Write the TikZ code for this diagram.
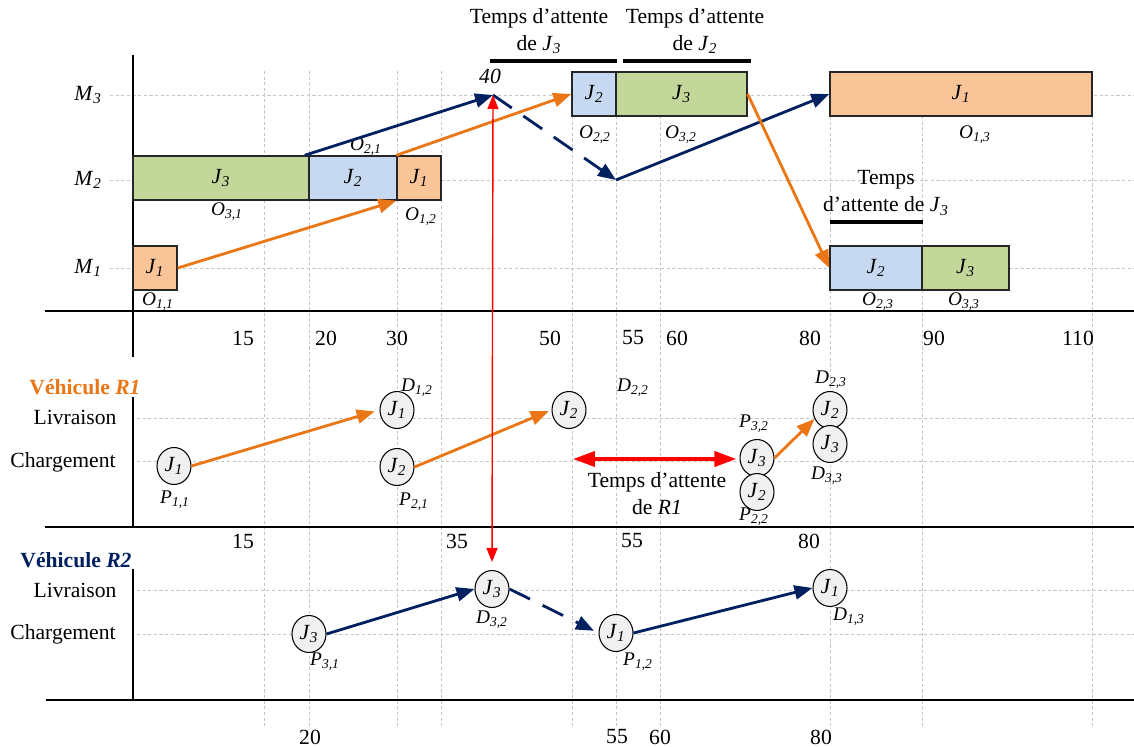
\documentclass[tikz,border=0pt]{standalone}
\usepackage{fontspec}
\setmainfont{Liberation Serif}
\usepackage{tikz}
\usetikzlibrary{arrows.meta,shapes.geometric}
\usepackage{xcolor}
\definecolor{jgreen}{RGB}{196,215,155}
\definecolor{jblue}{RGB}{198,217,240}
\definecolor{jorange}{RGB}{249,196,152}
\definecolor{rone}{RGB}{235,118,22}
\definecolor{rtwo}{RGB}{0,32,96}
\definecolor{pin}{RGB}{240,240,240}
\newcommand{\jsub}[2]{\textit{#1}\textsubscript{\textit{#2}}}

\begin{document}
\begin{tikzpicture}[x=0.02cm,y=-0.02cm,>={Triangle[length=3.6mm,width=2.8mm]},font=\fontsize{12.3}{15.3}\selectfont,
  grille/.style={gray!45,line width=0.4pt,dash pattern=on 1.8pt off 1.4pt},
  axe/.style={black,line width=0.8pt},
  op/.style={draw=black!85,line width=0.8pt,minimum height=0.88cm,inner sep=0pt},
  arret/.style={draw=black,fill=pin,ellipse,minimum width=0.68cm,minimum height=0.74cm,inner sep=0pt,line width=0.6pt},
  lab/.style={font=\fontsize{11}{13}\selectfont},
  flux1/.style={->,rone,line width=1.6pt},
  flux2/.style={->,rtwo,line width=1.6pt},
  attente/.style={line width=1.8pt}]
\useasboundingbox (0,0) rectangle (1134,747);
\draw[grille] (264,71) -- (264,726) (309,71) -- (309,726) (397,71) -- (397,726) (441,71) -- (441,726)
  (572,71) -- (572,726) (616,71) -- (616,726) (660,71) -- (660,726) (830,71) -- (830,726)
  (922,71) -- (922,726) (1092,71) -- (1092,726);
\draw[grille] (110,95) -- (1134,95) (110,180) -- (1134,180) (110,268) -- (1134,268);
\draw[grille] (137,418) -- (1134,418) (137,461) -- (1134,461) (137,590) -- (1134,590) (137,634) -- (1134,634);
\draw[axe] (133,55) -- (133,357);
\draw[axe] (45,311) -- (1134,311);
\draw[axe] (133,397) -- (133,527);
\draw[axe] (45,527) -- (1134,527);
\draw[axe] (133,569) -- (133,700);
\draw[axe] (46,700) -- (1134,700);
\node (m3) at (88,95) {\jsub{M}{3}};
\node (m2) at (88,180) {\jsub{M}{2}};
\node (m1) at (88,268) {\jsub{M}{1}};
\node[text=rone] (v1) at (85,387) {\textbf{Véhicule \textit{R1}}};
\node[text=rtwo] (v2) at (76,560) {\textbf{Véhicule \textit{R2}}};
\node (liv1) at (75,417) {Livraison};
\node (ch1) at (63,462) {Chargement};
\node (liv2) at (75,590) {Livraison};
\node (ch2) at (63,634) {Chargement};
\node (a15) at (243,338) {15};
\node (a20) at (326,338) {20};
\node (a30) at (397,338) {30};
\node (a50) at (550,338) {50};
\node (a55) at (633,338) {55};
\node (a60) at (677,338) {60};
\node (a80) at (810,338) {80};
\node (a90) at (934,338) {90};
\node (a110) at (1078,338) {110};
\node (b15) at (243,541) {15};
\node (b35) at (457,541) {35};
\node (b55) at (632,541) {55};
\node (b80) at (809,541) {80};
\node (c20) at (310,737) {20};
\node (c55) at (617,737) {55};
\node (c60) at (660,737) {60};
\node (c80) at (821,737) {80};
\node[op,fill=jgreen,minimum width=3.52cm] (o31) at (221,178) {\jsub{J}{3}};
\node[op,fill=jblue,minimum width=1.76cm] (o21) at (353,178) {\jsub{J}{2}};
\node[op,fill=jorange,minimum width=0.88cm] (o12) at (419,178) {\jsub{J}{1}};
\node[op,fill=jorange,minimum width=0.88cm] (o11) at (155,268) {\jsub{J}{1}};
\node[op,fill=jblue,minimum width=0.88cm] (o22) at (594,94) {\jsub{J}{2}};
\node[op,fill=jgreen,minimum width=2.62cm] (o32) at (681.5,94) {\jsub{J}{3}};
\node[op,fill=jorange,minimum width=5.24cm] (o13) at (961,94) {\jsub{J}{1}};
\node[op,fill=jblue,minimum width=1.84cm] (o23) at (876,268) {\jsub{J}{2}};
\node[op,fill=jgreen,minimum width=1.74cm] (o33) at (965.5,268) {\jsub{J}{3}};
\node[lab] (l11) at (158,302) {\jsub{O}{1,1}};
\node[lab] (l31) at (227,212) {\jsub{O}{3,1}};
\node[lab] (l21) at (366,147) {\jsub{O}{2,1}};
\node[lab] (l12) at (421,217) {\jsub{O}{1,2}};
\node[lab] (l22) at (595,135) {\jsub{O}{2,2}};
\node[lab] (l32) at (681,135) {\jsub{O}{3,2}};
\node[lab] (l13) at (975,135) {\jsub{O}{1,3}};
\node[lab] (l23) at (878,302) {\jsub{O}{2,3}};
\node[lab] (l33) at (964,302) {\jsub{O}{3,3}};
\node (quarante) at (490,76) {\textit{40}};
\coordinate (t40) at (493,95);
\coordinate (r2pos) at (616,180);
\node[align=center] (w3) at (539,31) {Temps d’attente\\de \jsub{J}{3}};
\node[align=center] (w2) at (695,31) {Temps d’attente\\de \jsub{J}{2}};
\node[align=center] (w3b) at (886,193) {Temps\\d’attente de \jsub{J}{3}};
\draw[attente] (490,61) -- (617,61);
\draw[attente] (623,61) -- (751,61);
\draw[attente] (830,222) -- (923,222);
\draw[flux1] (o11.east) -- (o12.south west);
\draw[flux1] (o12.north west) -- (o22.west);
\draw[flux2] ([xshift=-0.1cm]o31.north east) -- (t40);
\draw[flux2,dash pattern=on 13pt off 8pt] (t40) -- (r2pos);
\draw[flux2] (r2pos) -- (o13.west);
\draw[flux1] (o32.east) -- (o23.west);
\node[arret] (p11) at (174,466) {\jsub{J}{1}};
\node[arret] (d12) at (397,410) {\jsub{J}{1}};
\node[arret] (p21) at (397,467) {\jsub{J}{2}};
\node[arret] (d22) at (569,410) {\jsub{J}{2}};
\node[arret] (p32) at (757,458) {\jsub{J}{3}};
\node[arret] (p22) at (757,492) {\jsub{J}{2}};
\node[arret] (d23) at (830,410) {\jsub{J}{2}};
\node[arret] (d33) at (830,444) {\jsub{J}{3}};
\node[lab] (lp11) at (175,500) {\jsub{P}{1,1}};
\node[lab] (ld12) at (417,388) {\jsub{D}{1,2}};
\node[lab] (lp21) at (414,502) {\jsub{P}{2,1}};
\node[lab] (ld22) at (633,388) {\jsub{D}{2,2}};
\node[lab] (lp32) at (754,424) {\jsub{P}{3,2}};
\node[lab] (lp22) at (754,517) {\jsub{P}{2,2}};
\node[lab] (ld23) at (831,380) {\jsub{D}{2,3}};
\node[lab] (ld33) at (827,476) {\jsub{D}{3,3}};
\draw[flux1,shorten >=0.1cm] (p11.east) -- (d12.west);
\draw[flux1,shorten >=0.06cm] (p21.east) -- (d22.west);
\draw[flux1] (p32.east) -- (d23.210);
\coordinate (attr1) at (573,459);
\draw[red,line width=2.2pt,{Triangle[length=4.4mm,width=3mm]}-{Triangle[length=4.4mm,width=3mm]},shorten >=0.06cm] (attr1) -- (attr1 -| p32.west);
\node[align=center] (tr1) at (657,494) {Temps d’attente\\de \textit{R1}};
\node[arret] (p31) at (309,634) {\jsub{J}{3}};
\node[arret] (d32) at (492,589) {\jsub{J}{3}};
\node[arret] (p12) at (616,633) {\jsub{J}{1}};
\node[arret] (d13) at (830,588) {\jsub{J}{1}};
\node[lab] (lp31) at (325,662) {\jsub{P}{3,1}};
\node[lab] (ld32) at (492,620) {\jsub{D}{3,2}};
\node[lab] (lp12) at (638,662) {\jsub{P}{1,2}};
\node[lab] (ld13) at (849,617) {\jsub{D}{1,3}};
\draw[flux2] (p31.east) -- (d32.west);
\draw[flux2,dash pattern=on 13pt off 8pt,shorten >=0.1cm] (d32.east) -- (p12.west);
\draw[flux2] (p12.east) -- (d13.west);
\draw[red,line width=0.8pt,{Triangle[length=2.8mm,width=2.2mm]}-{Triangle[length=2.8mm,width=2.2mm]},shorten >=0.16cm] (t40) -- (d32.north);
\end{tikzpicture}
\end{document}
